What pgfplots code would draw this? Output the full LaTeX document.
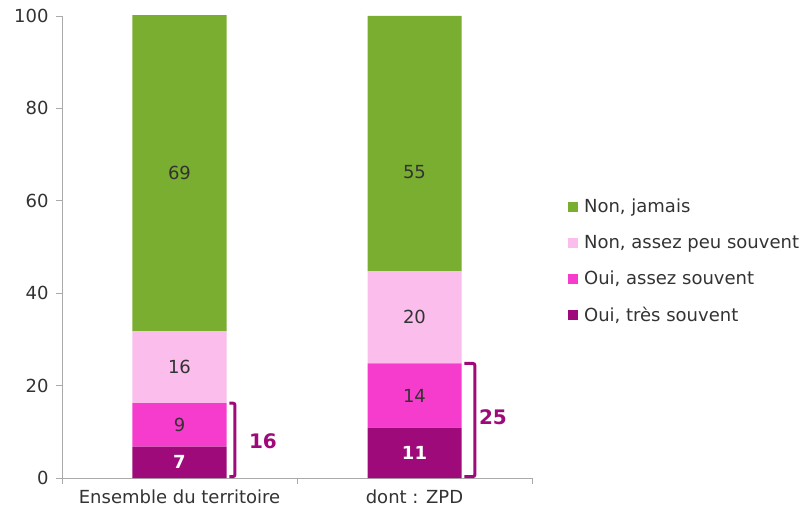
\documentclass[border=0pt]{standalone}
\usepackage{pgfplots}
\pgfplotsset{compat=1.18}
\usepackage{pgfplotstable}
\usepackage{fontspec}
\setmainfont{DejaVu Sans}
\definecolor{cgreen}{RGB}{122,174,48}
\definecolor{clpink}{RGB}{251,189,236}
\definecolor{cpink}{RGB}{245,60,204}
\definecolor{cpurp}{RGB}{158,10,122}
\definecolor{ctext}{RGB}{51,51,51}
\definecolor{caxis}{RGB}{170,170,170}

\pgfplotstableread{
x y lab
0 6.8 7
1 10.9 11
}\tA
\pgfplotstableread{
x y lab
0 9.4 9
1 13.9 14
}\tB
\pgfplotstableread{
x y lab
0 15.6 16
1 20.0 20
}\tC
\pgfplotstableread{
x y lab
0 68.4 69
1 55.2 55
}\tD

\begin{document}
\begin{tikzpicture}
\begin{axis}[
  scale only axis,
  width=470bp, height=462bp,
  xmin=-0.5, xmax=1.5, ymin=0, ymax=100,
  clip=false,
  ybar stacked, bar width=94bp,
  axis x line*=bottom, axis y line*=left,
  axis line style={draw=caxis, line width=0.8bp},
  every tick/.style={draw=caxis, line width=0.8bp},
  tick align=outside,
  major tick length=6bp,
  ytick={0,20,...,100},
  xtick={-0.5,0.5,1.5},
  x tick label as interval,
  xticklabels={Ensemble du territoire, dont : ZPD},
  font=\fontsize{18bp}{22bp}\selectfont,
  tick label style={text=ctext},
  yticklabel style={xshift=-4bp},
  xticklabel style={yshift=-2bp},
  /pgf/number format/assume math mode=true,
  point meta=explicit symbolic,
  nodes near coords={\pgfplotspointmeta},
  reverse legend,
  legend style={draw=none, fill=none, at={(rel axis cs:1.070,0.6126)}, anchor=north west,
    row sep=17bp, font=\fontsize{18bp}{22bp}\selectfont, text=ctext,
    /tikz/every even column/.append style={column sep=0bp}},
  legend cell align=left,
  legend image code/.code={\fill[#1] (0bp,-5bp) rectangle (10bp,5bp);},
]
\addplot[fill=cpurp, draw=none, every node near coord/.style={anchor=center, text=white, font=\fontsize{18bp}{22bp}\selectfont\bfseries}] table[x=x,y=y,meta=lab] {\tA};
\addlegendentry{\hspace*{4bp}Oui, très souvent}
\addplot[fill=cpink, draw=none, every node near coord/.style={anchor=center, text=ctext}] table[x=x,y=y,meta=lab] {\tB};
\addlegendentry{\hspace*{4bp}Oui, assez souvent}
\addplot[fill=clpink, draw=none, every node near coord/.style={anchor=center, text=ctext}] table[x=x,y=y,meta=lab] {\tC};
\addlegendentry{\hspace*{4bp}Non, assez peu souvent}
\addplot[fill=cgreen, draw=none, every node near coord/.style={anchor=center, text=ctext, yshift={-2.07bp*(69-\pgfplotspointmeta)}}] table[x=x,y=y,meta=lab] {\tD};
\addlegendentry{\hspace*{4bp}Non, jamais}

\draw[cpurp, line width=3bp, rounded corners=2bp] (axis cs:0.212,16.2) -- (axis cs:0.236,16.2) -- (axis cs:0.236,0.3) -- (axis cs:0.212,0.3);
\draw[cpurp, line width=3bp, rounded corners=2bp] (axis cs:1.212,24.8) -- (axis cs:1.257,24.8) -- (axis cs:1.257,0.3) -- (axis cs:1.212,0.3);
\node[text=cpurp, font=\fontsize{20bp}{24bp}\selectfont\bfseries] at (axis cs:0.355,8) {16};
\node[text=cpurp, font=\fontsize{20bp}{24bp}\selectfont\bfseries] at (axis cs:1.334,13.2) {25};
\end{axis}
\pgfresetboundingbox
\useasboundingbox (-62bp,-38bp) rectangle (747bp,478bp);
\end{tikzpicture}
\end{document}
